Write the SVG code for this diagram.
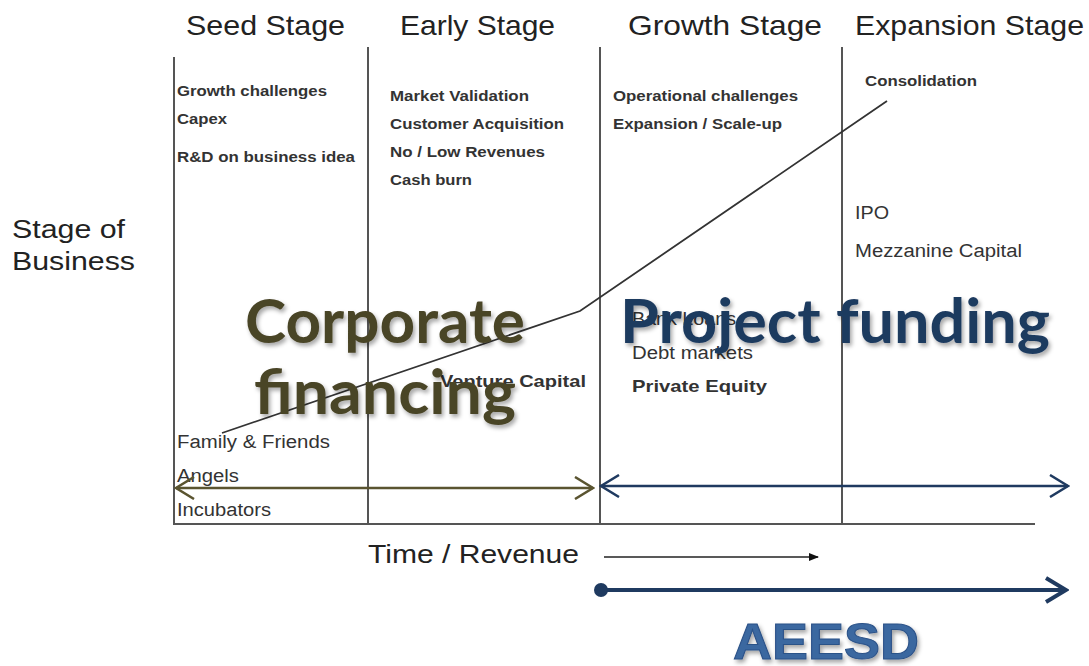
<svg xmlns="http://www.w3.org/2000/svg" width="1089" height="666" viewBox="0 0 1089 666">
<style>
.hdr{font-family:"Liberation Sans",Arial,sans-serif;font-size:28px;fill:#222}
.lbl{font-family:"Liberation Sans",Arial,sans-serif;font-size:26px;fill:#222}
.sm{font-family:"Liberation Sans",Arial,sans-serif;font-size:14px;font-weight:bold;fill:#333}
.md{font-family:"Liberation Sans",Arial,sans-serif;font-size:18px;fill:#333}
.mdb{font-family:"Liberation Sans",Arial,sans-serif;font-size:17px;font-weight:bold;fill:#333}
.grid{stroke:#555;stroke-width:2;fill:none}
.big{font-family:Lato,"Open Sans",sans-serif;font-weight:bold;font-size:62px}
</style>
<defs>
<filter id="sh" x="-10%" y="-10%" width="120%" height="130%">
<feDropShadow dx="2" dy="3" stdDeviation="2" flood-color="#000" flood-opacity="0.35"/>
</filter>
<marker id="ol" viewBox="0 0 22 24" refX="20" refY="12" markerWidth="22" markerHeight="24" markerUnits="userSpaceOnUse" orient="auto-start-reverse">
<path d="M2,1 L20,12 L2,23" fill="none" stroke="#5a5430" stroke-width="2.5"/>
</marker>
<marker id="nv" viewBox="0 0 22 24" refX="20" refY="12" markerWidth="22" markerHeight="24" markerUnits="userSpaceOnUse" orient="auto-start-reverse">
<path d="M2,1 L20,12 L2,23" fill="none" stroke="#1f3a60" stroke-width="2.5"/>
</marker>
<marker id="nvb" viewBox="0 0 26 28" refX="23" refY="14" markerWidth="26" markerHeight="28" markerUnits="userSpaceOnUse" orient="auto">
<path d="M3,2 L23,14 L3,26" fill="none" stroke="#1f3a60" stroke-width="4"/>
</marker>
<marker id="bk" viewBox="0 0 10 10" refX="9" refY="5" markerWidth="10" markerHeight="10" markerUnits="userSpaceOnUse" orient="auto">
<path d="M0,1 L10,5 L0,9 Z" fill="#111"/>
</marker>
</defs>
<rect width="1089" height="666" fill="#fff"/>

<g id="headers">
<text class="hdr" x="186" y="35" textLength="159" lengthAdjust="spacingAndGlyphs">Seed Stage</text>
<text class="hdr" x="400" y="35" textLength="155" lengthAdjust="spacingAndGlyphs">Early Stage</text>
<text class="hdr" x="628" y="35" textLength="194" lengthAdjust="spacingAndGlyphs">Growth  Stage</text>
<text class="hdr" x="855" y="35" textLength="229" lengthAdjust="spacingAndGlyphs">Expansion Stage</text>
</g>

<g id="axis-label">
<text class="lbl" x="12" y="238" textLength="113" lengthAdjust="spacingAndGlyphs">Stage of</text>
<text class="lbl" x="12" y="270" textLength="123" lengthAdjust="spacingAndGlyphs">Business</text>
</g>

<g id="grid">
<line class="grid" x1="174" y1="57" x2="174" y2="525"/>
<line class="grid" x1="368" y1="47" x2="368" y2="523"/>
<line class="grid" x1="600" y1="47" x2="600" y2="523"/>
<line class="grid" x1="842" y1="47" x2="842" y2="523"/>
<line class="grid" x1="174" y1="524" x2="1035" y2="524" stroke="#777"/>
</g>

<g id="curve">
<polyline points="222,433 580,311 887,101" fill="none" stroke="#333" stroke-width="1.8"/>
</g>

<g id="seed-text">
<text class="sm" x="177" y="96" textLength="150" lengthAdjust="spacingAndGlyphs">Growth challenges</text>
<text class="sm" x="177" y="124" textLength="50" lengthAdjust="spacingAndGlyphs">Capex</text>
<text class="sm" x="177" y="162" textLength="178" lengthAdjust="spacingAndGlyphs">R&amp;D on business idea</text>
<text class="md" x="177" y="448" textLength="153" lengthAdjust="spacingAndGlyphs">Family &amp; Friends</text>
<text class="md" x="177" y="482" textLength="62" lengthAdjust="spacingAndGlyphs">Angels</text>
<text class="md" x="177" y="516" textLength="94" lengthAdjust="spacingAndGlyphs">Incubators</text>
</g>

<g id="early-text">
<text class="sm" x="390" y="101" textLength="139" lengthAdjust="spacingAndGlyphs">Market Validation</text>
<text class="sm" x="390" y="129" textLength="174" lengthAdjust="spacingAndGlyphs">Customer Acquisition</text>
<text class="sm" x="390" y="157" textLength="155" lengthAdjust="spacingAndGlyphs">No / Low Revenues</text>
<text class="sm" x="390" y="185" textLength="82" lengthAdjust="spacingAndGlyphs">Cash burn</text>
<text class="mdb" x="440" y="387" textLength="146" lengthAdjust="spacingAndGlyphs">Venture Capital</text>
</g>

<g id="growth-text">
<text class="sm" x="613" y="101" textLength="185" lengthAdjust="spacingAndGlyphs">Operational challenges</text>
<text class="sm" x="613" y="129" textLength="169" lengthAdjust="spacingAndGlyphs">Expansion / Scale-up</text>
<text class="md" x="632" y="325" textLength="104" lengthAdjust="spacingAndGlyphs">Bank Loans</text>
<text class="md" x="632" y="359" textLength="121" lengthAdjust="spacingAndGlyphs">Debt markets</text>
<text class="mdb" x="632" y="392" textLength="135" lengthAdjust="spacingAndGlyphs">Private Equity</text>
</g>

<g id="expansion-text">
<text class="sm" x="865" y="86" textLength="112" lengthAdjust="spacingAndGlyphs">Consolidation</text>
<text class="md" x="855" y="219" textLength="34" lengthAdjust="spacingAndGlyphs">IPO</text>
<text class="md" x="855" y="257" textLength="167" lengthAdjust="spacingAndGlyphs">Mezzanine Capital</text>
</g>

<g id="time-axis">
<text class="lbl" x="368" y="563" textLength="211" lengthAdjust="spacingAndGlyphs">Time / Revenue</text>
</g>

<g id="connectors">
<line x1="176" y1="488" x2="593" y2="488" stroke="#5a5430" stroke-width="2.5" marker-start="url(#ol)" marker-end="url(#ol)"/>
<line x1="601" y1="486" x2="1068" y2="486" stroke="#1f3a60" stroke-width="2.5" marker-start="url(#nv)" marker-end="url(#nv)"/>
<line x1="604" y1="557" x2="818" y2="557" stroke="#222" stroke-width="1.5" marker-end="url(#bk)"/>
<circle cx="601" cy="590" r="7" fill="#1f3a60"/>
<line x1="601" y1="590" x2="1066" y2="590" stroke="#1f3a60" stroke-width="4" marker-end="url(#nvb)"/>
</g>

<g id="corporate-financing" filter="url(#sh)">
<text class="big" x="385" y="343" text-anchor="middle" fill="#4a4528" textLength="280" lengthAdjust="spacingAndGlyphs">Corporate</text>
<text class="big" x="385" y="414" text-anchor="middle" fill="#4a4528" textLength="262" lengthAdjust="spacingAndGlyphs">financing</text>
</g>

<g id="project-funding" filter="url(#sh)">
<text class="big" x="620" y="343" fill="#1e3a5f" textLength="430" lengthAdjust="spacingAndGlyphs">Project funding</text>
</g>

<g id="aeesd" filter="url(#sh)">
<text x="826" y="659" text-anchor="middle" font-family="'Liberation Sans',Arial,sans-serif" font-weight="bold" font-size="50" fill="#3b67a0" stroke="#2c5288" stroke-width="1" textLength="186" lengthAdjust="spacingAndGlyphs">AEESD</text>
</g>
</svg>
